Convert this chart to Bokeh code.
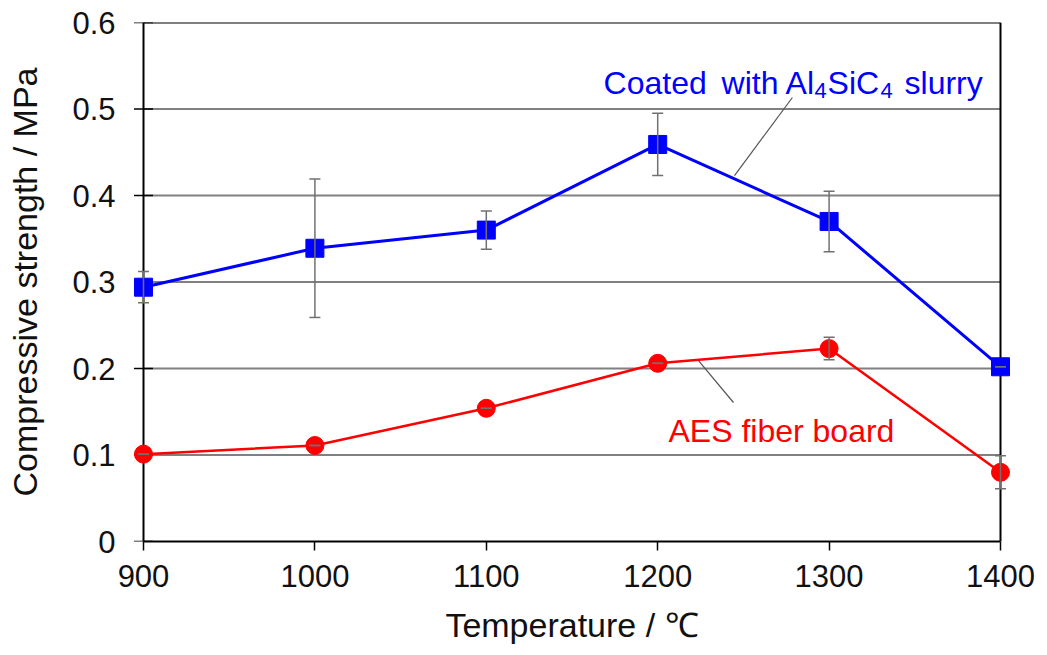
from bokeh.plotting import figure
from bokeh.models import ColumnDataSource, Whisker, TeeHead, Range1d, FixedTicker
from bokeh.core.properties import value
from bokeh.embed import file_html
from bokeh.resources import INLINE

# ---- data ----
temperature = [900, 1000, 1100, 1200, 1300, 1400]
coated_strength = [0.294, 0.339, 0.360, 0.459, 0.370, 0.202]
coated_error = [0.018, 0.080, 0.022, 0.036, 0.035, 0.0]
aes_strength = [0.101, 0.111, 0.154, 0.206, 0.223, 0.080]
aes_error = [0.0, 0.0, 0.0, 0.0, 0.013, 0.019]
x_ticks = [900, 1000, 1100, 1200, 1300, 1400]
y_ticks = [0, 0.1, 0.2, 0.3, 0.4, 0.5, 0.6]

FONT = "Liberation Sans"
PAD = 7.0  # range padding so end markers are not clipped

p = figure(width=1047, height=655, output_backend="svg", toolbar_location=None,
           x_range=Range1d(x_ticks[0] - PAD, x_ticks[-1] + PAD),
           y_range=Range1d(y_ticks[0], y_ticks[-1]),
           min_border_left=131, min_border_right=35, min_border_top=22, min_border_bottom=114)
p.background_fill_color = "white"
p.border_fill_color = "white"
p.outline_line_color = None
p.xgrid.visible = False
p.ygrid.visible = False

x0, x1 = x_ticks[0], x_ticks[-1]
# horizontal grid lines between axis limits
p.segment(x0=[x0] * (len(y_ticks) - 2), x1=[x1] * (len(y_ticks) - 2),
          y0=y_ticks[1:-1], y1=y_ticks[1:-1], line_color="#808080", line_width=2)
# plot box: top, right and left (y axis line)
p.segment(x0=[x0, x1, x0], x1=[x1, x1, x0],
          y0=[y_ticks[-1], y_ticks[0], y_ticks[0]], y1=[y_ticks[-1], y_ticks[-1], y_ticks[-1]],
          line_color="black", line_width=2)
# y axis cross ticks
p.scatter(x=[x0] * len(y_ticks), y=y_ticks, marker="dash", size=19,
          line_color="black", line_width=1.5)

# axes
p.xaxis.ticker = FixedTicker(ticks=x_ticks)
p.yaxis.ticker = FixedTicker(ticks=y_ticks)
p.xaxis.bounds = (x0, x1)
p.yaxis.major_label_overrides = {0: "0"}
for ax in (p.xaxis[0], p.yaxis[0]):
    ax.axis_line_color = "black"
    ax.axis_line_width = 2
    ax.major_tick_line_color = "black"
    ax.major_tick_line_width = 1.5
    ax.minor_tick_line_color = None
    ax.major_label_text_font = FONT
    ax.major_label_text_font_size = "31px"
    ax.major_label_text_color = "#111111"
    ax.axis_label_text_font = FONT
    ax.axis_label_text_font_size = "34px"
    ax.axis_label_text_font_style = "normal"
    ax.axis_label_text_color = "#111111"
p.xaxis.major_tick_in = 0
p.xaxis.major_tick_out = 9
p.xaxis.major_label_standoff = 14
p.xaxis.axis_label = "Temperature / \u2103"
p.xaxis.axis_label_standoff = 16
p.yaxis.axis_line_color = None
p.yaxis.major_tick_line_color = None
p.yaxis.major_tick_in = 0
p.yaxis.major_tick_out = 0
p.yaxis.major_label_standoff = 16
p.yaxis.axis_label = "Compressive strength / MPa"
p.yaxis.axis_label_standoff = 25

# sources
src_c = ColumnDataSource(dict(x=temperature, y=coated_strength,
                              up=[v + e for v, e in zip(coated_strength, coated_error)],
                              lo=[v - e for v, e in zip(coated_strength, coated_error)]))
src_a = ColumnDataSource(dict(x=temperature, y=aes_strength,
                              up=[v + e for v, e in zip(aes_strength, aes_error)],
                              lo=[v - e for v, e in zip(aes_strength, aes_error)]))

for src in (src_c, src_a):
    w = Whisker(source=src, base="x", upper="up", lower="lo",
                line_color="#707070", line_width=1.5,
                upper_head=TeeHead(size=11, line_color="#707070", line_width=1.5),
                lower_head=TeeHead(size=11, line_color="#707070", line_width=1.5))
    w.level = "glyph"
    p.add_layout(w)

p.line("x", "y", source=src_c, line_color="#0000FF", line_width=3)
p.scatter("x", "y", source=src_c, marker="square", size=18, fill_color="#0000FF", line_color="#0000FF")
p.line("x", "y", source=src_a, line_color="#FF0000", line_width=2.5)
p.scatter("x", "y", source=src_a, marker="circle", size=18, fill_color="#FF0000", line_color="#FF0000")

# leader lines for annotations
p.line([1278.6, 1244.8], [0.5133, 0.4231], line_color="#555555", line_width=1.2)
p.line([1223.8, 1244.2], [0.2092, 0.1607], line_color="#555555", line_width=1.2)

# annotation texts
blue_x, blue_y = 1168.4, 0.5296
parts = [("Coated", 0, 0, "32px"), ("with Al", 118, 0, "32px"), ("4", 211, 7, "22px"),
         ("SiC", 224, 0, "32px"), ("4", 277, 7, "22px"), ("slurry", 301, 0, "32px")]
for txt, dx, dy, fs in parts:
    p.text(x=[blue_x], y=[blue_y], text=[txt], x_offset=dx, y_offset=dy,
           text_font=value(FONT), text_font_size=fs, text_color="#0000FF",
           text_baseline="alphabetic", text_align="left")

p.text(x=[1206.3], y=[0.1272], text=["AES fiber board"],
       text_font=value(FONT), text_font_size="32px", text_color="#FF0000",
       text_baseline="alphabetic", text_align="left")

open("out.html", "w").write(file_html(p, INLINE))
